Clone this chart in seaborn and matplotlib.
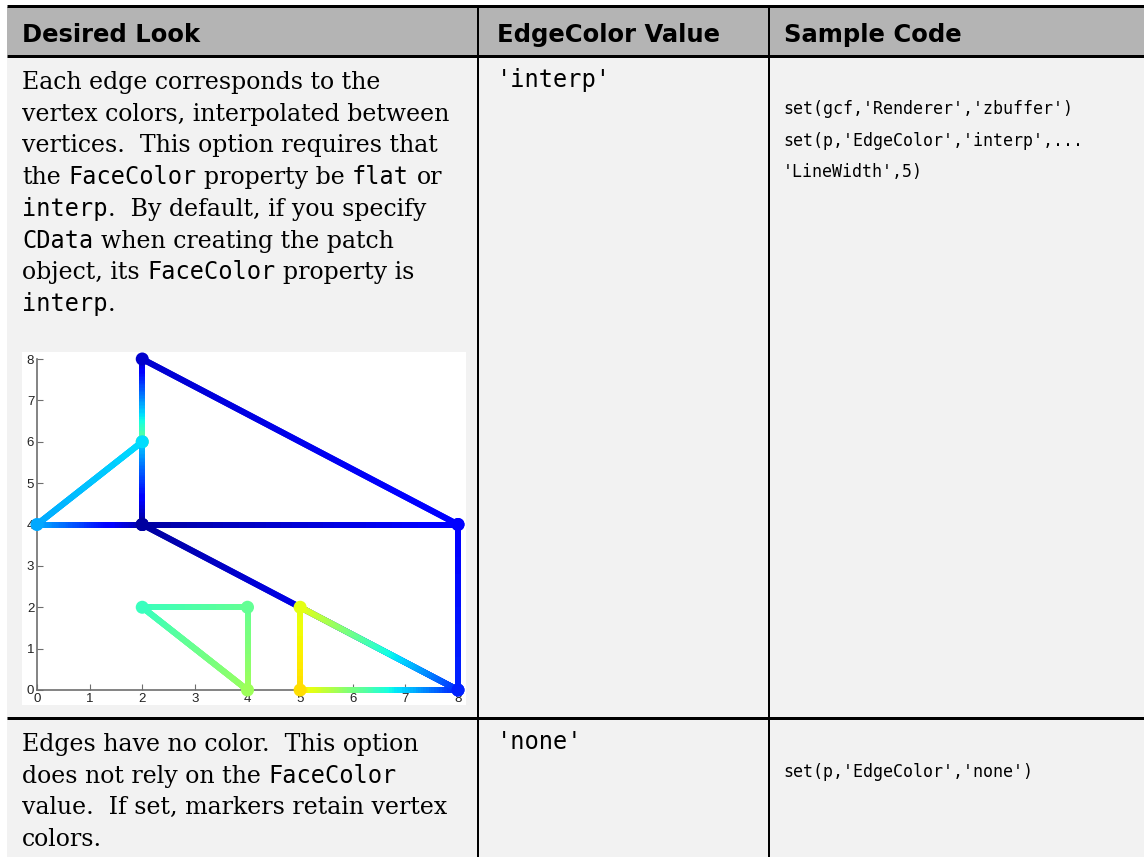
import numpy as np
import matplotlib.pyplot as plt
from matplotlib.collections import LineCollection
from matplotlib.colors import Normalize
import seaborn as sns

# patch faces: vertex x, vertex y and per-vertex colour index on the jet map (0..1)
top_x = [2, 2, 2, 8]
top_y = [4, 6, 8, 4]
top_c = [0.03, 0.50, 0.07, 0.12]

right_x = [2, 8, 8]
right_y = [4, 4, 0]
right_c = [0.03, 0.12, 0.16]

left_x = [0, 2, 2]
left_y = [4, 6, 4]
left_c = [0.29, 0.34, 0.03]

small_x = [2, 4, 4]
small_y = [2, 2, 0]
small_c = [0.42, 0.47, 0.54]

warm_x = [5, 5, 8]
warm_y = [2, 0, 0]
warm_c = [0.625, 0.675, 0.16]

ticks = [0, 1, 2, 3, 4, 5, 6, 7, 8]

headers = ["Desired Look", "EdgeColor Value", "Sample Code"]
values = ["'interp'", "'none'"]
code_interp = [
    "set(gcf,'Renderer','zbuffer')",
    "set(p,'EdgeColor','interp',...",
    "'LineWidth',5)",
]
code_none = ["set(p,'EdgeColor','none')"]

# description text, each line is a list of (text, font) runs
desc_interp = [
    [("Each edge corresponds to the", "serif")],
    [("vertex colors, interpolated between", "serif")],
    [("vertices.  This option requires that", "serif")],
    [("the ", "serif"), ("FaceColor", "mono"), (" property be ", "serif"),
     ("flat", "mono"), (" or", "serif")],
    [("interp", "mono"), (".  By default, if you specify", "serif")],
    [("CData", "mono"), (" when creating the patch", "serif")],
    [("object, its ", "serif"), ("FaceColor", "mono"), (" property is", "serif")],
    [("interp", "mono"), (".", "serif")],
]
desc_none = [
    [("Edges have no color.  This option", "serif")],
    [("does not rely on the ", "serif"), ("FaceColor", "mono")],
    [("value.  If set, markers retain vertex", "serif")],
    [("colors.", "serif")],
]

W, H = 1144, 857
sns.set_theme(style="white")
plt.rcParams["font.family"] = ["DejaVu Sans"]
jet = plt.get_cmap("jet")

fig = plt.figure(figsize=(W / 100, H / 100), dpi=100)
fig.patch.set_facecolor("white")

# full-figure axes in pixel units for the table
tab = fig.add_axes([0, 0, 1, 1])
tab.set_xlim(0, W)
tab.set_ylim(H, 0)
tab.axis("off")

px = 72 / 100  # pixels -> points
tab.add_patch(plt.Rectangle((7, 7), W - 7, 48, color="#b4b4b4", lw=0))
tab.add_patch(plt.Rectangle((7, 56), W - 7, H - 56, color="#f2f2f2", lw=0))
tab.add_patch(plt.Rectangle((22, 352), 444, 353, color="white", lw=0))
for yy in [6, 55.5, 718]:
    tab.plot([7, W], [yy, yy], color="black", lw=3 * px, solid_capstyle="butt")
for xx in [478, 769]:
    tab.plot([xx, xx], [5, H], color="black", lw=2 * px, solid_capstyle="butt")

head_font = dict(family="DejaVu Sans", weight="bold", size=17.5)
for txt, xx in zip(headers, [22, 497, 784]):
    tab.text(xx, 42, txt, va="baseline", ha="left", color="black", **head_font)

fonts = {
    "serif": dict(family="DejaVu Serif", size=17),
    "mono": dict(family="DejaVu Sans Mono", size=17),
}

renderer = fig.canvas.get_renderer()


def text_width(s, font):
    t = tab.text(0, 0, s, **font)
    w = t.get_window_extent(renderer).width
    t.remove()
    return w


space_w = text_width("x x", fonts["serif"]) - text_width("xx", fonts["serif"])


def draw_lines(lines, x0, y0, step):
    for i, runs in enumerate(lines):
        x = x0
        y = y0 + i * step
        for s, kind in runs:
            lead = len(s) - len(s.lstrip(" "))
            trail = len(s) - len(s.rstrip(" "))
            x += lead * space_w
            core = s.strip(" ")
            t = tab.text(x, y, core, va="baseline", ha="left", color="black",
                         **fonts[kind])
            x += t.get_window_extent(renderer).width + trail * space_w


draw_lines(desc_interp, 22, 89, 31.7)
draw_lines(desc_none, 22, 751, 31.7)

tab.text(497, 87, values[0], va="baseline", ha="left", color="black", **fonts["mono"])
tab.text(497, 749, values[1], va="baseline", ha="left", color="black", **fonts["mono"])

code_font = dict(family="DejaVu Sans Mono", size=12)
for i, line in enumerate(code_interp):
    tab.text(783, 114 + i * 31.5, line, va="baseline", ha="left", color="black", **code_font)
tab.text(783, 777, code_none[0], va="baseline", ha="left", color="black", **code_font)

# embedded patch plot
ax = fig.add_axes([37 / W, (H - 690) / H, 421 / W, 331 / H])
ax.set_facecolor("none")
ax.set_xlim(0, 8)
ax.set_ylim(0, 8)

norm = Normalize(0, 1)


def face_edges(xs, ys, cs, steps=60):
    segs, vals = [], []
    n = len(xs)
    t = np.linspace(0, 1, steps + 1)
    for i in range(n):
        j = (i + 1) % n
        pts = np.column_stack([xs[i] + (xs[j] - xs[i]) * t,
                               ys[i] + (ys[j] - ys[i]) * t])
        segs.extend(np.stack([pts[:-1], pts[1:]], axis=1))
        mid = (t[:-1] + t[1:]) / 2
        vals.extend(cs[i] + (cs[j] - cs[i]) * mid)
    return segs, np.array(vals)


faces = [
    (top_x, top_y, top_c),
    (right_x, right_y, right_c),
    (left_x, left_y, left_c),
    (small_x, small_y, small_c),
    (warm_x, warm_y, warm_c),
]
for k, (fx, fy, fc) in enumerate(faces):
    segs, vals = face_edges(fx, fy, fc)
    lc = LineCollection(segs, cmap=jet, norm=norm, linewidths=6 * px,
                        capstyle="projecting", zorder=2 + 2 * k, clip_on=False)
    lc.set_array(vals)
    ax.add_collection(lc)
    sns.scatterplot(x=fx, y=fy, hue=fc, palette=jet, hue_norm=(0, 1),
                    s=88, linewidth=0, legend=False, ax=ax,
                    zorder=3 + 2 * k, clip_on=False)

ax.set_xticks(ticks)
ax.set_yticks(ticks)
ax.tick_params(direction="in", length=4, width=0.8, color="#6e6e6e",
               labelsize=9.5, labelcolor="#222222", pad=2,
               bottom=True, left=True)
for lab in ax.get_xticklabels() + ax.get_yticklabels():
    lab.set_family("Liberation Sans")
for side in ["top", "right"]:
    ax.spines[side].set_visible(False)
for side in ["left", "bottom"]:
    ax.spines[side].set_color("#6e6e6e")
    ax.spines[side].set_linewidth(1.2)
ax.grid(False)
ax.set_xlabel("")
ax.set_ylabel("")

fig.savefig("out.png", dpi=100)
